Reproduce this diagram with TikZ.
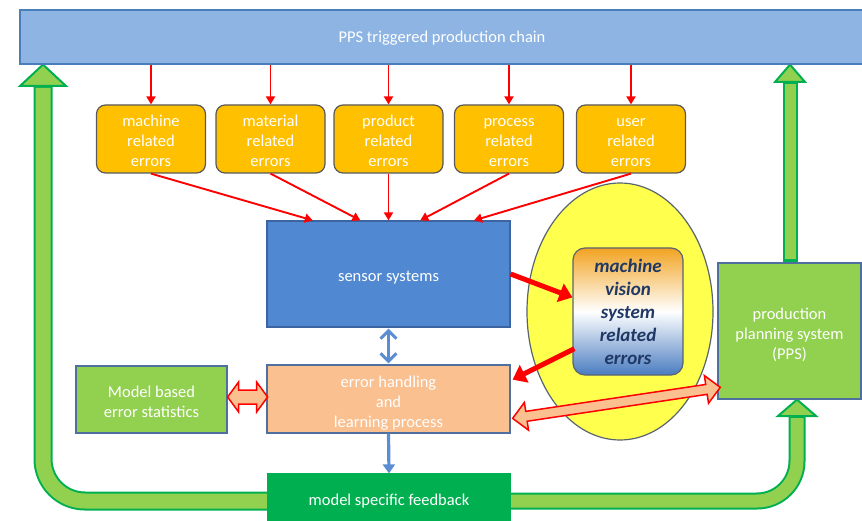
\documentclass[tikz,border=0pt]{standalone}
\usepackage{fontspec}
\setmainfont{Carlito}
\usetikzlibrary{arrows.meta,shapes.geometric,calc}

\definecolor{barblue}{HTML}{8DB4E2}
\definecolor{barline}{HTML}{4A7EBB}
\definecolor{errorange}{HTML}{FFC000}
\definecolor{boxgray}{HTML}{595959}
\definecolor{sensblue}{HTML}{5089D2}
\definecolor{sensline}{HTML}{3B64A0}
\definecolor{peach}{HTML}{FAC090}
\definecolor{lgreen}{HTML}{92D050}
\definecolor{dgreen}{HTML}{00B050}
\definecolor{frameblue}{HTML}{4F6F9F}
\definecolor{ovalyellow}{HTML}{FFFF4D}
\definecolor{ovalline}{HTML}{5A6470}
\definecolor{arrowblue}{HTML}{5B8DD3}
\definecolor{navy}{HTML}{1F3864}
\definecolor{vtop}{HTML}{F2A322}
\definecolor{vbot}{HTML}{4A7CC0}
\definecolor{redline}{HTML}{FF0000}

% centred block of lines; the optional height pads the first row
\newcommand{\celltext}[2][22pt]{\begin{tabular}{@{}c@{}}\rule{0pt}{#1}#2\end{tabular}}

\pgfdeclarelayer{back}
\pgfsetlayers{back,main}

\tikzset{
  lbl/.style={text=white, font=\fontsize{16.5}{20}\selectfont, inner sep=0pt},
  box/.style={lbl, draw, line width=1.2pt, minimum width=#1},
  errbox/.style={box=109, fill=errorange, draw=boxgray, rounded corners=9pt, minimum height=68},
  redthin/.style={draw=redline, line width=1.9pt, -{Triangle[length=8pt,width=9pt]}},
  redthick/.style={draw=redline, line width=5pt, -{Triangle[length=13pt,width=19pt]}},
  bluearr/.style={draw=arrowblue, line width=3.2pt},
  btip/.tip={Straight Barb[length=8pt,width=16pt,line width=3pt]},
  blockarr/.style={draw=redline, line width=1.5pt, fill=peach, line join=miter},
  gout/.style={draw=dgreen, line width=#1},
  gin/.style={draw=lgreen, line width=#1},
  ghead/.style={fill=lgreen, draw=dgreen, line width=2pt, line join=miter},
}

\begin{document}
\begin{tikzpicture}[x=1pt,y=-1pt]
\useasboundingbox (0,0) rectangle (862,521);

% top production chain bar
\node[lbl, fill=barblue, draw=barline, line width=1.2pt, minimum width=844, minimum height=54]
  (bar) at (442,37) {\celltext[18pt]{PPS triggered production chain}};

% error sources
\node[errbox] (e1) at (151,139) {\celltext{machine\\related\\errors}};
\node[errbox] (e2) at (270.5,139) {\celltext{material\\related\\errors}};
\node[errbox] (e3) at (388.5,139) {\celltext{product\\related\\errors}};
\node[errbox] (e4) at (509,139) {\celltext{process\\related\\errors}};
\node[errbox] (e5) at (631,139) {\celltext{user\\related\\errors}};

% central column
\node[box=243, fill=sensblue, draw=sensline, minimum height=106] (ss) at (388.5,274) {\celltext{sensor systems}};
\node[box=243, fill=peach, draw=frameblue, minimum height=68] (eh) at (388.5,399) {\celltext{error handling\\and\\learning process}};
\node[box=151, fill=lgreen, draw=frameblue, minimum height=67] (mb) at (151.5,399.5) {\celltext{Model based\\error statistics}};
\node[box=242, fill=dgreen, draw=dgreen, minimum height=54] (fb) at (389,501) {\celltext[14pt]{model specific feedback}};

% production planning system
\node[box=143, fill=lgreen, draw=frameblue, minimum height=136] (pps) at (789.5,331) {\celltext{production\\planning system\\(PPS)}};

% machine vision region
\node[ellipse, draw=ovalline, line width=1.2pt, fill=ovalyellow, minimum width=186, minimum height=257, inner sep=0pt]
  (ov) at (620,311.5) {};
\node[draw=ovalline, line width=1.2pt, rounded corners=12pt, minimum width=110, minimum height=127,
  top color=vtop, bottom color=vbot, middle color=white, text=navy, align=center, inner sep=0pt,
  font=\fontsize{19}{23}\selectfont\bfseries\itshape] (mv) at (628,311.5)
  {machine\\vision\\system\\related\\errors};

% chain to error sources
\foreach \e in {e1,e2,e3,e4,e5}
  \draw[redthin] (bar.south -| \e) -- (\e.north);

% error sources to sensor systems
\draw[redthin] (e1.south) -- ($(ss.north west)!0.19!(ss.north east)$);
\draw[redthin] (e2.south) -- ($(ss.north west)!0.385!(ss.north east)$);
\draw[redthin] (e3.south) -- (ss.north);
\draw[redthin] (e4.south) -- ($(ss.north west)!0.63!(ss.north east)$);
\draw[redthin] (e5.south) -- ($(ss.north west)!0.85!(ss.north east)$);

% machine vision loop
\draw[redthick] (ss.east) -- ($(mv.north west)!0.39!(mv.south west)$);
\draw[redthick] ($(mv.north west)!0.79!(mv.south west)+(2,0)$) -- ($(eh.north east)!0.22!(eh.south east)+(2,0)$);

% blue connectors
\draw[bluearr, btip-btip] ($(ss.south)+(0,1)$) -- ($(eh.north)+(0,-1)$);
\draw[bluearr, -{Triangle[length=9pt,width=12pt]}] (eh.south) -- (fb.north);

% block double arrow: error handling <-> PPS
\coordinate (ba1) at ($(eh.north east)!0.78!(eh.south east)+(2,0)$);
\coordinate (ba2) at ($(pps.north west)!0.91!(pps.south west)$);
\begin{scope}[shift={(ba1)}, rotate=8.5]
  \filldraw[blockarr] (0,0) -- (14,-14) -- (14,-5) -- (196,-5) -- (196,-14) -- (210,0)
    -- (196,14) -- (196,5) -- (14,5) -- (14,14) -- cycle;
\end{scope}

% block double arrow: model statistics <-> error handling
\coordinate (bb1) at ($(mb.east)+(0,-2.5)$);
\begin{scope}[shift={(bb1)}]
  \filldraw[blockarr] (0,0) -- (11,-15) -- (11,-7) -- (29,-7) -- (29,-15) -- (40,0)
    -- (29,15) -- (29,7) -- (11,7) -- (11,15) -- cycle;
\end{scope}

% green feedback arrows
\coordinate (lhb) at (43,86);
\coordinate (rhb) at (797,416);
\coordinate (uhb) at (790,82);
\begin{pgfonlayer}{back}
  \draw[gout=19pt, rounded corners=42pt] (fb.west) -| (lhb);
  \draw[gin=15pt, rounded corners=42pt] ($(fb.west)+(5,0)$) -| ($(lhb)+(0,2)$);
  \filldraw[ghead] ($(lhb)+(-23,0)$) -- (lhb |- bar.south) -- ($(lhb)+(23,0)$) -- cycle;

  \draw[gout=17pt, rounded corners=40pt] (fb.east) -| (rhb);
  \draw[gin=13pt, rounded corners=40pt] ($(fb.east)+(-5,0)$) -| ($(rhb)+(0,2)$);
  \filldraw[ghead] ($(rhb)+(-19,0)$) -- (rhb |- pps.south) -- ($(rhb)+(19,0)$) -- cycle;

  \draw[gout=15pt] (uhb |- pps.north) -- (uhb);
  \draw[gin=11pt] ($(uhb |- pps.north)+(0,-3)$) -- ($(uhb)+(0,2)$);
  \filldraw[ghead] ($(uhb)+(-15,0)$) -- (uhb |- bar.south) -- ($(uhb)+(15,0)$) -- cycle;
\end{pgfonlayer}
\end{tikzpicture}
\end{document}
